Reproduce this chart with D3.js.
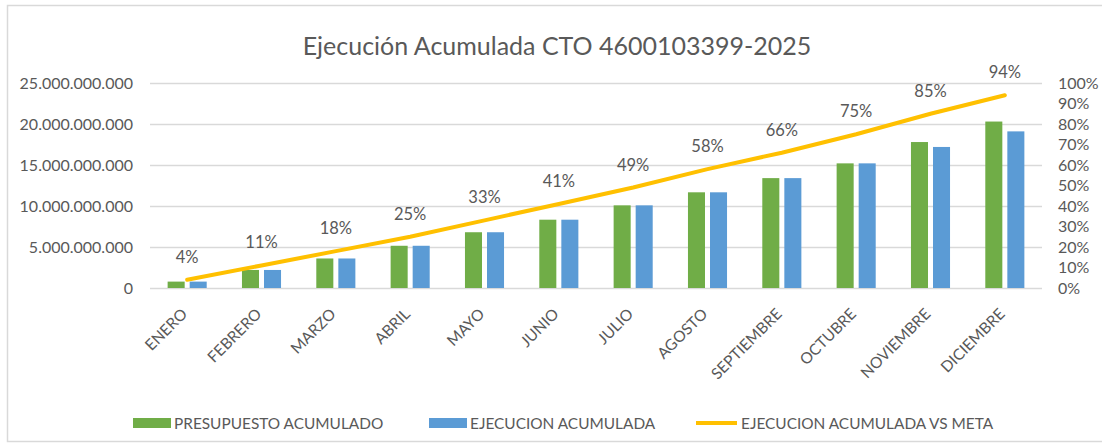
<!DOCTYPE html>
<html>
<head>
<meta charset="utf-8">
<script src="https://cdn.jsdelivr.net/npm/d3@7"></script>
<style>
  body { margin: 0; background: #fff; }
  #chart-area { width: 1102px; height: 444px; }
  text { font-family: Lato, "Open Sans", sans-serif; fill: #595959; }
</style>
</head>
<body>
<div id="chart-area"></div>
<script>
var months = ["ENERO", "FEBRERO", "MARZO", "ABRIL", "MAYO", "JUNIO", "JULIO",
              "AGOSTO", "SEPTIEMBRE", "OCTUBRE", "NOVIEMBRE", "DICIEMBRE"];

// valores (pesos)
var presupuesto = [0.78e9, 2.2e9, 3.6e9, 5.15e9, 6.8e9, 8.33e9, 10.08e9,
                   11.67e9, 13.4e9, 15.2e9, 17.8e9, 20.3e9];
var ejecucion = [0.78e9, 2.2e9, 3.6e9, 5.15e9, 6.8e9, 8.33e9, 10.08e9,
                 11.67e9, 13.4e9, 15.2e9, 17.2e9, 19.1e9];
var pctMeta = [0.04, 0.11, 0.18, 0.25, 0.33, 0.41, 0.49, 0.58, 0.66, 0.75, 0.85, 0.94];

var leftTicks = [0, 5e9, 10e9, 15e9, 20e9, 25e9];
var rightTicks = [0, 0.1, 0.2, 0.3, 0.4, 0.5, 0.6, 0.7, 0.8, 0.9, 1];

var seriesNames = ["PRESUPUESTO ACUMULADO", "EJECUCION ACUMULADA", "EJECUCION ACUMULADA VS META"];
var green = "#70AD47", blue = "#5B9BD5", gold = "#FFC000";

var width = 1102, height = 444;
var margin = {left: 150, right: 60, top: 83, bottom: 156};

var svg = d3.select("#chart-area").append("svg")
    .attr("width", width)
    .attr("height", height);

// marco del grafico
svg.append("rect")
    .attr("x", 7.5).attr("y", 5.5)
    .attr("width", width + 10).attr("height", 436)
    .attr("fill", "none")
    .attr("stroke", "#d9d9d9")
    .attr("stroke-width", 1.5);

var x = d3.scaleBand()
    .domain(months)
    .range([margin.left, width - margin.right]);

var y = d3.scaleLinear()
    .domain([0, 25e9])
    .range([height - margin.bottom, margin.top]);

var y2 = d3.scaleLinear()
    .domain([0, 1])
    .range([height - margin.bottom, margin.top]);

var fmt = function(v) { return d3.format(",")(v).replace(/,/g, "."); };

// grid + eje izquierdo
var leftAxis = svg.append("g")
    .attr("transform", "translate(" + margin.left + ",0)")
    .call(d3.axisLeft(y).tickValues(leftTicks).tickFormat(fmt)
        .tickSize(-(width - margin.left - margin.right)).tickPadding(17));
leftAxis.select(".domain").remove();
leftAxis.selectAll("line").attr("stroke", "#d9d9d9").attr("stroke-width", 1.3);
leftAxis.selectAll("text").style("font-size", "16px").attr("fill", "#595959");

// eje derecho
var rightAxis = svg.append("g")
    .attr("transform", "translate(" + (width - margin.right) + ",0)")
    .call(d3.axisRight(y2).tickValues(rightTicks).tickFormat(d3.format(".0%"))
        .tickSize(0).tickPadding(16));
rightAxis.select(".domain").remove();
rightAxis.selectAll("text").style("font-size", "16px").attr("fill", "#595959");

// eje x
var xAxis = svg.append("g")
    .attr("transform", "translate(0," + (height - margin.bottom) + ")")
    .call(d3.axisBottom(x).tickSize(0));
xAxis.select(".domain").remove();
xAxis.selectAll("text")
    .style("font-size", "15.5px")
    .attr("fill", "#595959")
    .attr("text-anchor", "end")
    .attr("x", 0)
    .attr("y", 0)
    .attr("dy", 0)
    .attr("transform", "translate(1,27) rotate(-45)");

// barras
var inner = d3.scaleBand()
    .domain([0, 1])
    .range([0, x.bandwidth()])
    .paddingInner(0.227)
    .paddingOuter(0.8);

months.forEach(function(m, i) {
    var vals = [presupuesto[i], ejecucion[i]];
    vals.forEach(function(v, j) {
        svg.append("rect")
            .attr("x", x(m) + inner(j))
            .attr("y", y(v))
            .attr("width", inner.bandwidth())
            .attr("height", y(0) - y(v))
            .attr("fill", j == 0 ? green : blue);
    });
});

// linea de porcentaje
var line = d3.line()
    .x(function(d, i) { return x(months[i]) + x.bandwidth() / 2; })
    .y(function(d) { return y2(d); });

svg.append("path")
    .datum(pctMeta)
    .attr("d", line)
    .attr("fill", "none")
    .attr("stroke", gold)
    .attr("stroke-width", 4)
    .attr("stroke-linecap", "round");

svg.selectAll(".pct-label")
    .data(pctMeta)
    .enter().append("text")
    .attr("class", "pct-label")
    .attr("x", function(d, i) { return x(months[i]) + x.bandwidth() / 2; })
    .attr("y", function(d) { return y2(d) - 17; })
    .attr("text-anchor", "middle")
    .style("font-size", "16.5px")
    .text(d3.format(".0%"));

// titulo
svg.append("text")
    .attr("x", 557)
    .attr("y", 55)
    .attr("text-anchor", "middle")
    .style("font-size", "25px")
    .text("Ejecución Acumulada CTO 4600103399-2025");

// leyenda
var legendX = [133, 429, 696];
seriesNames.forEach(function(name, i) {
    var row = svg.append("g")
        .attr("transform", "translate(" + legendX[i] + ",423)");
    if (i < 2) {
        row.append("rect")
            .attr("x", 0).attr("y", -5)
            .attr("width", 38).attr("height", 10)
            .attr("fill", i == 0 ? green : blue);
    } else {
        row.append("line")
            .attr("x1", 0).attr("x2", 41)
            .attr("stroke", gold)
            .attr("stroke-width", 4);
    }
    row.append("text")
        .attr("x", i < 2 ? 41 : 45)
        .attr("y", 5.5)
        .style("font-size", "15.4px")
        .text(name);
});
</script>
</body>
</html>
